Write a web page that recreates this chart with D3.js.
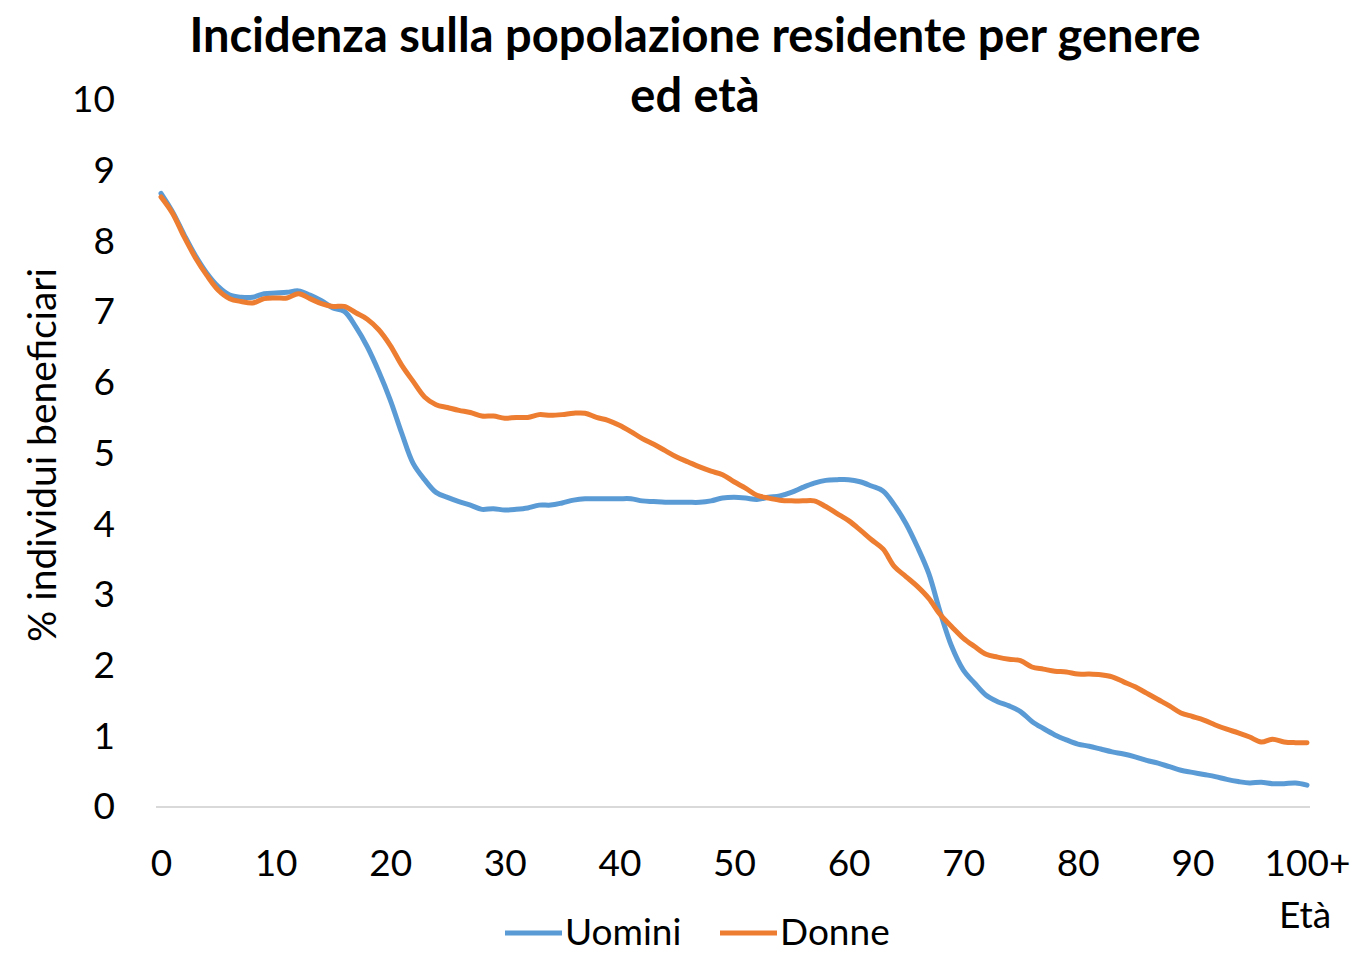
<!DOCTYPE html>
<html>
<head>
<meta charset="utf-8">
<script src="https://cdn.jsdelivr.net/npm/d3@7"></script>
<style>
  body { margin: 0; background: #fff; }
  svg { display: block; font-family: Lato, "Open Sans", sans-serif; }
</style>
</head>
<body>
<svg id="chart"></svg>
<script>
// ages 0..100 (100 = "100+")
const ages = d3.range(0, 101);

const uomini = [
  8.68, 8.42, 8.10, 7.80, 7.55, 7.36, 7.24, 7.21, 7.21, 7.26,
  7.27, 7.28, 7.30, 7.24, 7.16, 7.06, 7.01, 6.79, 6.51, 6.16,
  5.76, 5.29, 4.86, 4.63, 4.45, 4.38, 4.32, 4.27, 4.21, 4.22,
  4.20, 4.21, 4.23, 4.27, 4.27, 4.30, 4.34, 4.36, 4.36, 4.36,
  4.36, 4.36, 4.33, 4.32, 4.31, 4.31, 4.31, 4.31, 4.33, 4.37,
  4.38, 4.37, 4.35, 4.38, 4.40, 4.45, 4.52, 4.58, 4.62, 4.63,
  4.63, 4.60, 4.54, 4.47, 4.27, 4.01, 3.68, 3.30, 2.75, 2.27,
  1.94, 1.75, 1.58, 1.49, 1.43, 1.35, 1.21, 1.11, 1.02, 0.95,
  0.89, 0.86, 0.82, 0.78, 0.75, 0.71, 0.66, 0.62, 0.57, 0.52,
  0.49, 0.46, 0.43, 0.39, 0.36, 0.34, 0.35, 0.33, 0.33, 0.34,
  0.31
];

const donne = [
  8.63, 8.40, 8.07, 7.77, 7.52, 7.31, 7.19, 7.15, 7.13, 7.19,
  7.20, 7.20, 7.26, 7.19, 7.12, 7.08, 7.08, 6.99, 6.90, 6.75,
  6.53, 6.25, 6.02, 5.80, 5.69, 5.65, 5.61, 5.58, 5.53, 5.53,
  5.50, 5.51, 5.51, 5.55, 5.54, 5.55, 5.57, 5.57, 5.51, 5.47,
  5.40, 5.31, 5.21, 5.13, 5.04, 4.95, 4.88, 4.81, 4.75, 4.70,
  4.60, 4.51, 4.41, 4.37, 4.34, 4.33, 4.33, 4.33, 4.25, 4.15,
  4.05, 3.92, 3.78, 3.65, 3.40, 3.26, 3.12, 2.95, 2.72, 2.55,
  2.39, 2.27, 2.16, 2.12, 2.09, 2.07, 1.98, 1.95, 1.92, 1.91,
  1.88, 1.88, 1.87, 1.84, 1.77, 1.70, 1.61, 1.52, 1.43, 1.33,
  1.28, 1.23, 1.16, 1.10, 1.05, 0.99, 0.92, 0.96, 0.92, 0.91,
  0.91
];

const xTicks = [0, 10, 20, 30, 40, 50, 60, 70, 80, 90, 100];
const xTickLabels = ["0", "10", "20", "30", "40", "50", "60", "70", "80", "90", "100+"];
const yTicks = d3.range(0, 11);

const series = [
  { name: "Uomini", values: uomini, color: "#5B9BD5" },
  { name: "Donne", values: donne, color: "#ED7D31" }
];

const width = 1352, height = 953;
const margin = { left: 161, right: 45, top: 100, bottom: 146 };

const svg = d3.select("#chart")
    .attr("width", width)
    .attr("height", height);

const x = d3.scaleLinear().domain([0, 100]).range([margin.left, width - margin.right]);
const y = d3.scaleLinear().domain([0, 10]).range([height - margin.bottom, margin.top]);

// title
svg.append("text")
    .attr("x", 695).attr("y", 52)
    .attr("text-anchor", "middle")
    .style("font-size", "47px").style("font-weight", "bold")
    .text("Incidenza sulla popolazione residente per genere");
svg.append("text")
    .attr("x", 695).attr("y", 112)
    .attr("text-anchor", "middle")
    .style("font-size", "47px").style("font-weight", "bold")
    .text("ed età");

// baseline at 0
svg.append("line")
    .attr("x1", 156).attr("x2", 1310)
    .attr("y1", y(0)).attr("y2", y(0))
    .attr("stroke", "#d9d9d9").attr("stroke-width", 2);

// y axis
const yAxis = svg.append("g")
    .attr("transform", `translate(${115},0)`)
    .call(d3.axisLeft(y).tickValues(yTicks).tickSize(0).tickPadding(0));
yAxis.select(".domain").remove();
yAxis.selectAll("text")
    .style("font-size", "37px").style("font-family", "Lato, sans-serif")
    .attr("fill", "#000");

// x axis
const xAxis = svg.append("g")
    .attr("transform", `translate(0,${y(0)})`)
    .call(d3.axisBottom(x).tickValues(xTicks).tickFormat((d, i) => xTickLabels[i]).tickSize(0).tickPadding(43));
xAxis.select(".domain").remove();
xAxis.selectAll("text")
    .style("font-size", "37px").style("font-family", "Lato, sans-serif")
    .attr("fill", "#000");

// axis titles
svg.append("text")
    .attr("transform", `translate(56,455) rotate(-90)`)
    .attr("text-anchor", "middle")
    .style("font-size", "39px")
    .text("% individui beneficiari");

svg.append("text")
    .attr("x", 1305).attr("y", 928)
    .attr("text-anchor", "middle")
    .style("font-size", "37px")
    .text("Età");

// lines
const line = d3.line()
    .x((d, i) => x(ages[i]))
    .y(d => y(d))
    .curve(d3.curveCatmullRom.alpha(0.5));

svg.append("g").selectAll("path")
  .data(series)
  .join("path")
    .attr("d", d => line(d.values))
    .attr("fill", "none")
    .attr("stroke", d => d.color)
    .attr("stroke-width", 5)
    .attr("stroke-linecap", "round")
    .attr("stroke-linejoin", "round");

// legend
const legendX = [505, 720];
const legend = svg.append("g").selectAll("g")
  .data(series)
  .join("g")
    .attr("transform", (d, i) => `translate(${legendX[i]},933)`);
legend.append("line")
    .attr("x1", 0).attr("x2", 57)
    .attr("stroke", d => d.color)
    .attr("stroke-width", 5);
legend.append("text")
    .attr("x", 60).attr("y", 12)
    .style("font-size", "37px")
    .text(d => d.name);
</script>
</body>
</html>
